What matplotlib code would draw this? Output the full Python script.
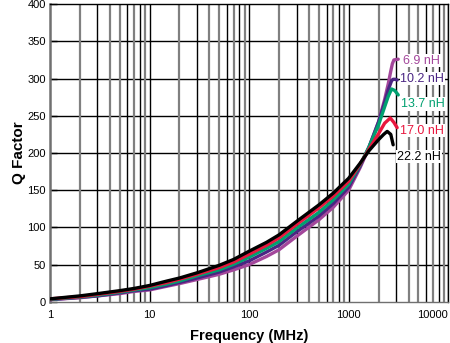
import matplotlib.pyplot as plt
from matplotlib.ticker import FixedLocator, NullFormatter

plt.rcParams['font.family'] = ['Liberation Sans', 'DejaVu Sans']

# Q factor vs frequency (MHz)
f_low = [1, 2, 3, 5, 7, 10, 15, 20, 30, 50, 70, 100, 150, 200, 300, 500, 700, 1000, 1300, 1600]

freq_69 = f_low + [2000, 2300, 2500, 2650, 2750, 2850, 3150]
q_69 = [3, 5.5, 8, 11, 14, 16, 21, 24.5, 30, 37, 43, 50, 61, 70, 88, 110, 127, 150, 180, 207,
        242, 272, 293, 310, 320, 325, 326]
freq_102 = f_low + [2000, 2300, 2500, 2700, 2800, 2950, 3070]
q_102 = [3, 6, 8, 12, 15, 17, 22, 26, 32, 40, 47, 55, 67, 76, 94, 115, 132, 154, 182, 208,
         242, 268, 285, 297, 299, 299, 298]
freq_137 = f_low + [2000, 2300, 2500, 2700, 2900, 3150]
q_137 = [3.5, 6.5, 9, 13, 16, 19, 24, 28, 35, 43, 50.5, 60, 72, 81, 99, 120, 137, 158, 184, 208,
         238, 262, 276, 286, 284, 278]
freq_170 = f_low + [2000, 2300, 2620, 2850, 3070]
q_170 = [4, 7, 10, 14, 17, 21, 26, 30.5, 37, 46, 53.5, 64, 76, 86, 104, 126, 142, 162, 185, 205,
         226, 240, 247, 241, 234]
freq_222 = f_low + [2000, 2250, 2440, 2650, 2800]
q_222 = [4, 8, 11, 15, 18, 22, 28, 32, 39, 49, 57, 68, 80, 90, 108, 130, 146, 166, 186, 203,
         218, 225, 229, 225, 211]

labels = ['6.9 nH', '10.2 nH', '13.7 nH', '17.0 nH', '22.2 nH']
colors = ['#a3479b', '#4a2583', '#00a070', '#e8173e', '#000000']
label_pos = [(3530, 324), (3300, 300), (3370, 266), (3300, 230), (3070, 195)]

series = [(freq_69, q_69), (freq_102, q_102), (freq_137, q_137),
          (freq_170, q_170), (freq_222, q_222)]

fig = plt.figure(figsize=(4.5, 3.43), dpi=100)
ax = fig.add_axes([0.111, 0.12, 0.885, 0.868])

ax.set_xscale('log')
ax.set_xlim(1, 10000)
ax.set_ylim(0, 400)

# grid: horizontal black, vertical major black, minor mixed gray/black
for y in range(50, 400, 50):
    ax.axhline(y, color='black', lw=1, zorder=1)
for dec in [1, 10, 100, 1000]:
    for m in range(2, 10):
        c = 'black' if m in (3, 6, 8) else '#808080'
        w = 1 if m in (3, 6, 8) else 1.6
        ax.axvline(dec * m, color=c, lw=w, zorder=1)
    ax.axvline(dec * 10, color='black', lw=1, zorder=1)

for (f, q), col in zip(series, colors):
    ax.plot(f, q, color=col, lw=2.4, zorder=3, solid_capstyle='round',
            solid_joinstyle='round')

for lab, col, (x, y) in zip(labels, colors, label_pos):
    ax.text(x, y, lab, color=col, fontsize=9, va='center', ha='left', zorder=4,
            bbox=dict(facecolor='white', edgecolor='none', pad=0.5))

ax.xaxis.set_major_locator(FixedLocator([1, 10, 100, 1000, 10000]))
ax.set_xticklabels(['1', '10', '100', '1000', '10000'])
ax.get_xticklabels()[-1].set_horizontalalignment('right')
ax.xaxis.set_minor_formatter(NullFormatter())
ax.tick_params(axis='x', which='both', length=0, labelsize=8, pad=6)
ax.set_yticks(range(0, 401, 50))
ax.tick_params(axis='y', direction='in', length=5, width=1, labelsize=8, pad=3)

for s in ax.spines.values():
    s.set_color('black')
    s.set_linewidth(1)
ax.spines['left'].set_color('#707070')
ax.spines['left'].set_linewidth(1.8)
ax.spines['bottom'].set_color('#707070')

ax.set_xlabel('Frequency (MHz)', fontsize=10.5, fontweight='bold', labelpad=6)
ax.set_ylabel('Q Factor', fontsize=11, fontweight='bold', labelpad=1)

fig.savefig('out.png', dpi=100)
